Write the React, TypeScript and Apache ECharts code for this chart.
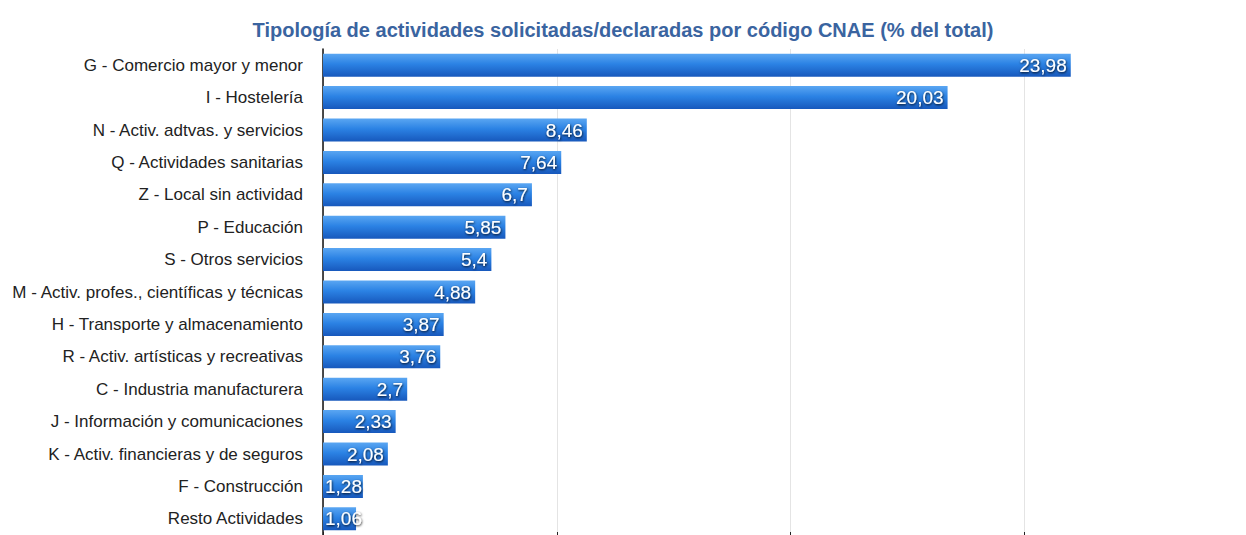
import React, { useEffect, useRef } from "react";
import * as echarts from "echarts";

const TITLE = "Tipología de actividades solicitadas/declaradas por código CNAE (% del total)";

const categories: string[] = [
  "G - Comercio mayor y menor",
  "I - Hostelería",
  "N - Activ. adtvas. y servicios",
  "Q - Actividades sanitarias",
  "Z - Local sin actividad",
  "P - Educación",
  "S - Otros servicios",
  "M - Activ. profes., científicas y técnicas",
  "H - Transporte y almacenamiento",
  "R - Activ. artísticas y recreativas",
  "C - Industria manufacturera",
  "J - Información y comunicaciones",
  "K - Activ. financieras y de seguros",
  "F - Construcción",
  "Resto Actividades",
];

const values: number[] = [23.98, 20.03, 8.46, 7.64, 6.7, 5.85, 5.4, 4.88, 3.87, 3.76, 2.7, 2.33, 2.08, 1.28, 1.06];

const fmt = (v: number) => String(v).replace(".", ",");

export default function App() {
  const ref = useRef<HTMLDivElement>(null);
  useEffect(() => {
    if (!ref.current) return;
    const chart = echarts.init(ref.current, null, { renderer: "svg" });
    const barColor = new echarts.graphic.LinearGradient(0, 0, 0, 1, [
      { offset: 0, color: "#5aa6f2" },
      { offset: 0.45, color: "#2b82e4" },
      { offset: 1, color: "#1758bc" },
    ]);
    chart.setOption({
      animation: false,
      title: {
        text: TITLE,
        left: "center",
        top: 15,
        textStyle: {
          fontFamily: "Liberation Sans Narrow, Arial Narrow, Liberation Sans, sans-serif",
          fontSize: 20,
          fontWeight: "bold",
          color: "#3a64a0",
        },
      },
      grid: { left: 323, right: 0, top: 49, bottom: -1 },
      xAxis: {
        type: "value",
        min: 0,
        max: 29.6,
        interval: 7.5,
        axisLine: { show: false },
        axisLabel: { show: false },
        axisTick: { show: true, inside: true, length: 3, lineStyle: { color: "#222" } },
        splitLine: { show: true, lineStyle: { color: "#e4e4e4", width: 1 } },
      },
      yAxis: {
        type: "category",
        data: categories,
        inverse: true,
        axisLine: { show: true, lineStyle: { color: "#111", width: 1.5 } },
        axisTick: { show: false },
        axisLabel: {
          margin: 20,
          fontFamily: "Liberation Sans, Arial, Helvetica, sans-serif",
          fontSize: 17,
          color: "#222",
        },
      },
      series: [
        {
          type: "bar",
          barCategoryGap: "29%",
          data: values.map((v) => ({
            value: v,
            label: { position: v < 2 ? "insideLeft" : "insideRight", distance: v < 2 ? 2 : 4 },
          })),
          itemStyle: { color: barColor },
          label: {
            show: true,
            formatter: (p: any) => fmt(p.value),
            color: "#ffffff",
            fontFamily: "Liberation Sans, Arial, Helvetica, sans-serif",
            fontSize: 19,
            textShadowColor: "rgba(0,0,0,0.9)",
            textShadowBlur: 2,
            textShadowOffsetX: 0.5,
            textShadowOffsetY: 1,
          },
        },
      ],
    });
    return () => chart.dispose();
  }, []);
  return (
    <div
      ref={ref}
      style={{ position: "absolute", left: 0, top: 0, width: 1246, height: 535, background: "#fff" }}
    />
  );
}
